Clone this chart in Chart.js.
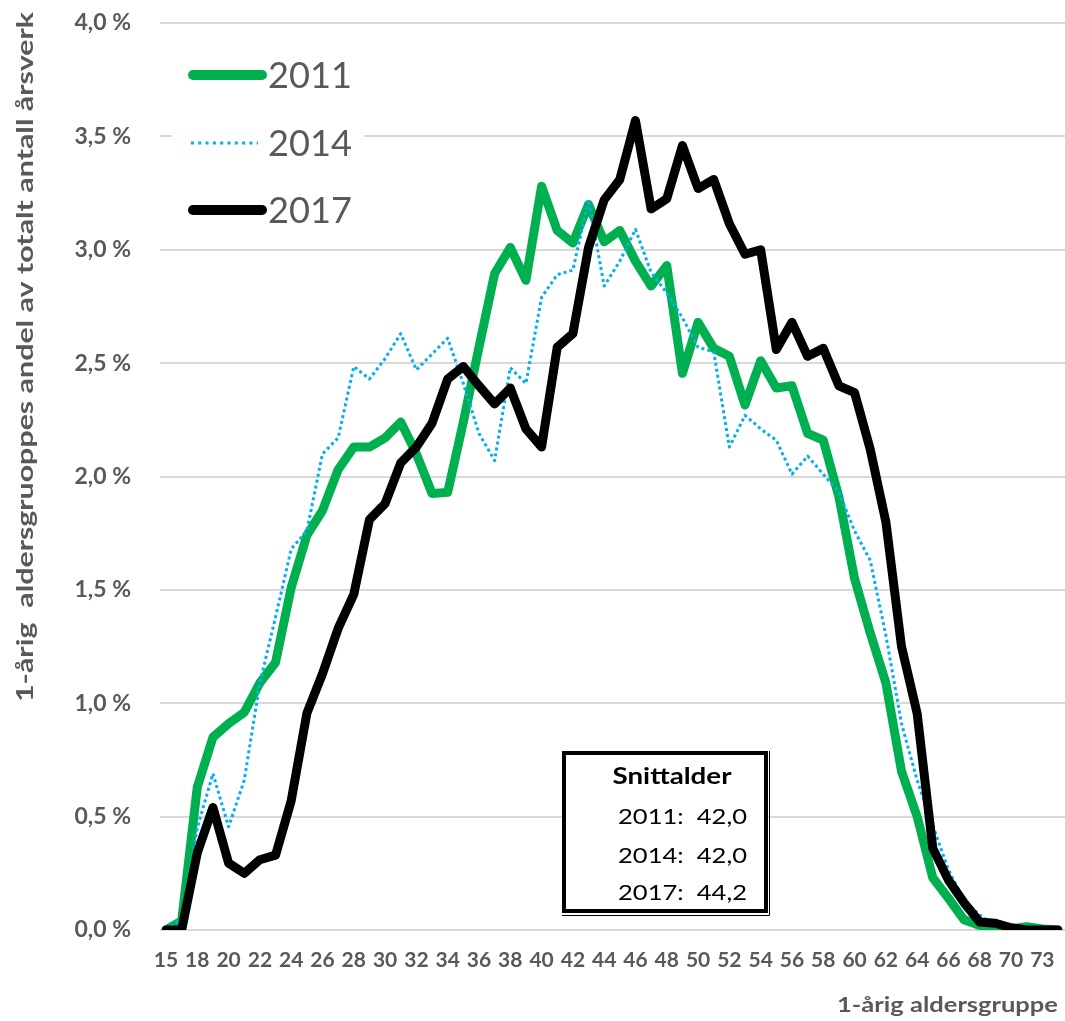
<!DOCTYPE html>
<html>
<head>
<meta charset="utf-8">
<title>Aldersfordeling årsverk</title>
<script src="https://cdn.jsdelivr.net/npm/chart.js@4.4.1/dist/chart.umd.min.js"></script>
<style>
  html, body { margin: 0; padding: 0; background: #ffffff; }
  #wrap { width: 1065px; height: 1021px; position: relative; }
</style>
</head>
<body>
<div id="wrap"><canvas id="c" width="1065" height="1021"></canvas></div>
<script>
// 1-year age groups (every second one is labelled on the axis)
const ages = ['15','17','18','19','20','21','22','23','24','25','26','27','28','29','30','31','32','33','34','35',
  '36','37','38','39','40','41','42','43','44','45','46','47','48','49','50','51','52','53','54','55',
  '56','57','58','59','60','61','62','63','64','65','66','67','68','69','70','71','73','74'];

// Share of total man-years (%) per age group
const share2011 = [0.00, 0.04, 0.63, 0.85, 0.91, 0.96, 1.09, 1.18, 1.51, 1.74,
  1.85, 2.03, 2.13, 2.13, 2.17, 2.24, 2.10, 1.925, 1.93, 2.24,
  2.57, 2.895, 3.01, 2.865, 3.28, 3.085, 3.03, 3.20, 3.035, 3.085,
  2.95, 2.84, 2.93, 2.455, 2.68, 2.565, 2.53, 2.315, 2.51, 2.39,
  2.40, 2.19, 2.16, 1.91, 1.55, 1.31, 1.09, 0.70, 0.50, 0.23,
  0.14, 0.045, 0.02, 0.00, 0.005, 0.015, 0.005, 0.00];

const share2014 = [0.00, 0.05, 0.45, 0.69, 0.455, 0.66, 1.09, 1.38, 1.68, 1.76,
  2.10, 2.17, 2.485, 2.43, 2.52, 2.63, 2.47, 2.54, 2.61, 2.41,
  2.19, 2.07, 2.48, 2.41, 2.79, 2.89, 2.91, 3.22, 2.84, 2.95,
  3.09, 2.90, 2.81, 2.70, 2.57, 2.55, 2.13, 2.27, 2.21, 2.16,
  2.01, 2.09, 2.01, 1.93, 1.76, 1.63, 1.30, 0.91, 0.66, 0.46,
  0.265, 0.13, 0.066, 0.015, 0.01, 0.005, 0.00, 0.00];

const share2017 = [0.00, 0.00, 0.34, 0.54, 0.295, 0.25, 0.31, 0.33, 0.57, 0.955,
  1.13, 1.33, 1.48, 1.81, 1.88, 2.06, 2.13, 2.235, 2.43, 2.485,
  2.40, 2.32, 2.39, 2.21, 2.13, 2.57, 2.63, 3.01, 3.22, 3.31,
  3.57, 3.18, 3.225, 3.46, 3.27, 3.31, 3.115, 2.98, 3.00, 2.56,
  2.68, 2.53, 2.565, 2.40, 2.37, 2.12, 1.80, 1.25, 0.955, 0.36,
  0.22, 0.12, 0.035, 0.03, 0.01, 0.00, 0.00, 0.00];

// Y-axis ticks (%)
const yTicks = [0, 0.5, 1.0, 1.5, 2.0, 2.5, 3.0, 3.5, 4.0];

// Average age per year
const avgYears = ['2011', '2014', '2017'];
const avgAges = [42.0, 42.0, 44.2];

const GREEN = '#00B050';
const BLUE = '#00B0F0';
const BLACK = '#000000';
const GREY_TEXT = '#595959';
const GRID = '#d9d9d9';

const fmt = v => v.toFixed(1).replace('.', ',');

// Draws text squeezed/stretched horizontally to a given width
function fitText(ctx, text, x, y, font, color, width, align) {
  ctx.save();
  ctx.font = font;
  ctx.fillStyle = color;
  ctx.textBaseline = 'middle';
  const w = ctx.measureText(text).width;
  const sx = width ? width / w : 1;
  let left = x;
  if (align === 'center') left = x - (w * sx) / 2;
  else if (align === 'right') left = x - w * sx;
  ctx.translate(left, y);
  ctx.scale(sx, 1);
  ctx.textAlign = 'left';
  ctx.fillText(text, 0, 0);
  ctx.restore();
}

// Removes the extra room Chart.js keeps for half of the edge tick labels
function noEdgePadding(s) {
  s.paddingLeft = 0;
  s.paddingRight = 0;
  s.paddingTop = 0;
  s.paddingBottom = 0;
}

const gridPlugin = {
  id: 'hgrid',
  beforeDatasetsDraw(chart) {
    const ctx = chart.ctx;
    const ys = chart.scales.y;
    ctx.save();
    ctx.strokeStyle = GRID;
    ctx.lineWidth = 2;
    yTicks.forEach(v => {
      const py = Math.round(ys.getPixelForValue(v));
      ctx.beginPath();
      ctx.moveTo(160, py);
      ctx.lineTo(1065, py);
      ctx.stroke();
    });
    ctx.restore();
  }
};

const overlayPlugin = {
  id: 'overlay',
  afterDraw(chart) {
    const ctx = chart.ctx;

    // Legend
    ctx.save();
    ctx.fillStyle = '#ffffff';
    ctx.fillRect(172, 45, 192, 190);
    const legend = [
      { label: '2011', color: GREEN, width: 10, dash: [], y: 75 },
      { label: '2014', color: BLUE, width: 3, dash: [3, 4.3], y: 143 },
      { label: '2017', color: BLACK, width: 10, dash: [], y: 210 }
    ];
    legend.forEach(l => {
      ctx.beginPath();
      ctx.strokeStyle = l.color;
      ctx.lineWidth = l.width;
      ctx.lineCap = l.dash.length ? 'butt' : 'round';
      ctx.setLineDash(l.dash);
      ctx.moveTo(l.dash.length ? 191 : 193, l.y);
      ctx.lineTo(l.dash.length ? 258 : 262, l.y);
      ctx.stroke();
      ctx.setLineDash([]);
      fitText(ctx, l.label, 268, l.y + 1, '37px Lato', GREY_TEXT, 84, 'left');
    });
    ctx.restore();

    // Average age box
    ctx.save();
    ctx.fillStyle = '#ffffff';
    ctx.fillRect(562, 751, 206, 164);
    ctx.strokeStyle = '#000000';
    ctx.lineWidth = 4;
    ctx.strokeRect(564, 753, 202, 158);
    ctx.lineWidth = 1;
    ctx.beginPath();
    ctx.moveTo(562, 915.5);
    ctx.lineTo(769.5, 915.5);
    ctx.lineTo(769.5, 751);
    ctx.stroke();
    fitText(ctx, 'Snittalder', 672, 777, 'bold 22px Lato', '#000000', 119, 'center');
    const rowY = [817, 856, 893];
    avgYears.forEach((yr, i) => {
      fitText(ctx, yr + ':  ' + fmt(avgAges[i]), 618, rowY[i], '22px Lato', '#000000', 129, 'left');
    });
    ctx.restore();

    // Y-axis title
    ctx.save();
    ctx.translate(26, 357);
    ctx.rotate(-Math.PI / 2);
    fitText(ctx, '1-årig  aldersgruoppes andel av totalt antall årsverk', 0, 0, 'bold 22px Lato', GREY_TEXT, 690, 'center');
    ctx.restore();

    // X-axis title
    fitText(ctx, '1-årig aldersgruppe', 1058, 1006, 'bold 20px Lato', GREY_TEXT, 221, 'right');
  }
};

new Chart(document.getElementById('c'), {
  type: 'line',
  data: {
    labels: ages,
    datasets: [
      { label: '2011', data: share2011, borderColor: GREEN, borderWidth: 9, order: 3,
        pointRadius: 0, tension: 0, borderJoinStyle: 'round', borderCapStyle: 'round', fill: false },
      { label: '2014', data: share2014, borderColor: BLUE, borderWidth: 3, borderDash: [3, 3], order: 2,
        pointRadius: 0, tension: 0, borderJoinStyle: 'round', borderCapStyle: 'butt', fill: false },
      { label: '2017', data: share2017, borderColor: BLACK, borderWidth: 9, order: 1,
        pointRadius: 0, tension: 0, borderJoinStyle: 'round', borderCapStyle: 'round', fill: false }
    ]
  },
  options: {
    responsive: false,
    devicePixelRatio: 1,
    animation: false,
    layout: { padding: { top: 23, right: 7, bottom: 0, left: 0 } },
    plugins: { legend: { display: false }, tooltip: { enabled: false }, title: { display: false } },
    scales: {
      x: {
        type: 'category',
        offset: false,
        grid: { display: false, drawTicks: false },
        border: { display: false },
        ticks: {
          autoSkip: false, maxRotation: 0, minRotation: 0, padding: 18,
          color: GREY_TEXT, font: { family: 'Lato', weight: 'bold', size: 21 },
          callback: function (val, idx) { return idx % 2 === 0 ? this.getLabelForValue(val) : ''; }
        },
        afterFit: s => { s.height = 91; noEdgePadding(s); }
      },
      y: {
        min: 0, max: 4,
        grid: { display: false, drawTicks: false },
        border: { display: false },
        ticks: {
          stepSize: 0.5, padding: 35, color: GREY_TEXT,
          font: { family: 'Lato', weight: 'bold', size: 23 },
          callback: v => fmt(v) + ' %'
        },
        afterFit: s => { s.width = 166; noEdgePadding(s); }
      }
    }
  },
  plugins: [gridPlugin, overlayPlugin]
});
</script>
</body>
</html>
